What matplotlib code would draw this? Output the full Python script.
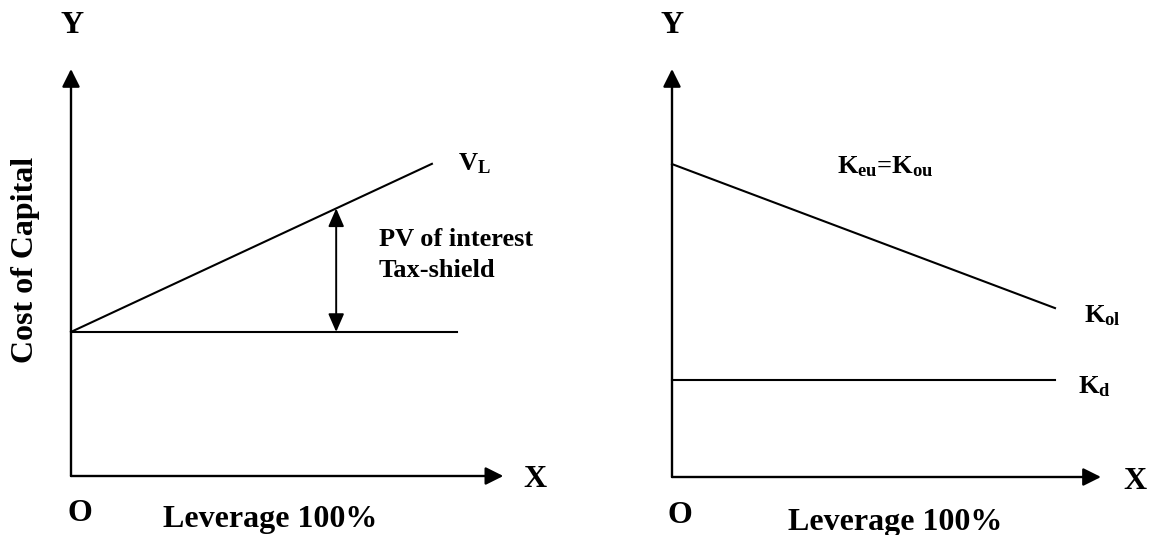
import numpy as np
import matplotlib
matplotlib.use("Agg")
import matplotlib.pyplot as plt

plt.rcParams['font.family'] = ['Liberation Serif', 'DejaVu Serif']
plt.rcParams['font.weight'] = 'bold'
plt.rcParams['mathtext.fontset'] = 'custom'
plt.rcParams['mathtext.rm'] = 'Liberation Serif:bold'
plt.rcParams['mathtext.it'] = 'Liberation Serif:bold'
plt.rcParams['mathtext.bf'] = 'Liberation Serif:bold'

# ---- data (left panel: value of levered firm) ----
flat_x = [0, 100]
flat_y = [35.4, 35.4]
vl_x = [0, 93.5]
vl_y = [35.4, 76.7]
shield_x = 68.7

# ---- data (right panel: cost of capital) ----
kol_x = [0, 100]
kol_y = [76.7, 41.4]
kd_x = [0, 100]
kd_y = [23.8, 23.8]

x_axis_end = 112
y_axis_end = 100

W, H = 1157, 535
fig = plt.figure(figsize=(W / 100, H / 100), dpi=100)

def make_ax(ox, oy, pxx, pxy):
    # ox, oy: pixel of origin (from top-left); pxx, pxy: pixels per unit
    xmax, ymax = 115, 100
    ax = fig.add_axes([ox / W, (H - oy) / H, xmax * pxx / W, ymax * pxy / H])
    ax.set_xlim(0, xmax)
    ax.set_ylim(0, ymax)
    ax.axis('off')
    return ax

axL = make_ax(71, 476, 3.86, 4.07)
axR = make_ax(672, 477, 3.83, 4.08)

axis_arrow = dict(arrowstyle='-|>,head_length=0.54,head_width=0.27', lw=1.7,
                  color='black', mutation_scale=20, shrinkA=0, shrinkB=0)

for ax in (axL, axR):
    ax.annotate('', xy=(0, y_axis_end), xytext=(0, 0), arrowprops=axis_arrow,
                annotation_clip=False)
    ax.annotate('', xy=(x_axis_end, 0), xytext=(0, 0), arrowprops=axis_arrow,
                annotation_clip=False)

# left panel
axL.plot(flat_x, flat_y, color='black', lw=1.5, clip_on=False)
axL.plot(vl_x, vl_y, color='black', lw=1.5, clip_on=False)
shield_top = np.interp(shield_x, vl_x, vl_y)
axL.annotate('', xy=(shield_x, shield_top), xytext=(shield_x, flat_y[0]),
             arrowprops=dict(arrowstyle='<|-|>,head_length=0.55,head_width=0.24',
                             lw=1.4, color='black', mutation_scale=20,
                             shrinkA=0, shrinkB=0))

fs_big = 23
fs_lab = 19
axL.text(0.3, 110.6, 'Y', ha='center', va='center', fontsize=fs_big, weight='bold', clip_on=False)
axL.text(120.2, -0.8, 'X', ha='center', va='center', fontsize=fs_big, weight='bold', clip_on=False)
axL.text(2.3, -11, 'O', ha='center', va='baseline', fontsize=fs_big, weight='bold', clip_on=False)
axL.text(51.5, -12.5, 'Leverage 100%', ha='center', va='baseline', fontsize=fs_big, weight='bold', clip_on=False)
axL.text(-11.9, 53, 'Cost of Capital', ha='center', va='center', rotation=90,
         fontsize=fs_big, weight='bold', clip_on=False)
axL.text(100.3, 75.2, r'$V_L$', ha='left', va='baseline', fontsize=fs_lab, clip_on=False)
axL.text(79.8, 56.5, 'PV of interest', ha='left', va='baseline', fontsize=fs_lab, weight='bold', clip_on=False)
axL.text(79.8, 49.0, 'Tax-shield', ha='left', va='baseline', fontsize=fs_lab, weight='bold', clip_on=False)

# right panel
axR.plot(kol_x, kol_y, color='black', lw=1.5, clip_on=False)
axR.plot(kd_x, kd_y, color='black', lw=1.5, clip_on=False)
axR.text(0, 110.6, 'Y', ha='center', va='center', fontsize=fs_big, weight='bold', clip_on=False)
axR.text(120.9, -1.2, 'X', ha='center', va='center', fontsize=fs_big, weight='bold', clip_on=False)
axR.text(2.1, -11.3, 'O', ha='center', va='baseline', fontsize=fs_big, weight='bold', clip_on=False)
axR.text(58.2, -12.9, 'Leverage 100%', ha='center', va='baseline', fontsize=fs_big, weight='bold', clip_on=False)
axR.text(43.1, 74.3, r'$K_{eu}$=$K_{ou}$', ha='left', va='baseline', fontsize=fs_lab, clip_on=False)
axR.text(107.6, 38.0, r'$K_{ol}$', ha='left', va='baseline', fontsize=fs_lab, clip_on=False)
axR.text(106.0, 20.6, r'$K_d$', ha='left', va='baseline', fontsize=fs_lab, clip_on=False)

fig.savefig('out.png', dpi=100, facecolor='white')
